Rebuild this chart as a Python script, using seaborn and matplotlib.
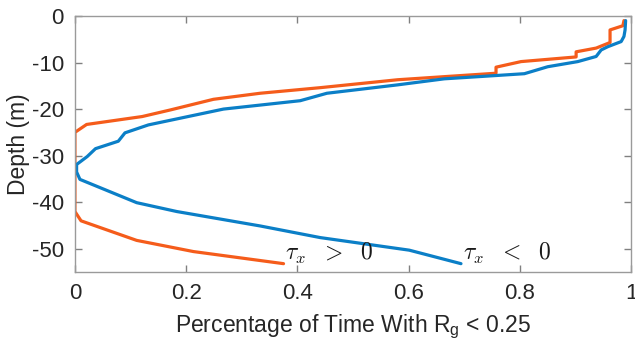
import matplotlib
matplotlib.use("Agg")
import matplotlib.pyplot as plt
import numpy as np
import pandas as pd
import seaborn as sns

# Fraction of time with gradient Richardson number below 0.25, by depth
pos_frac = [0.987, 0.985, 0.962, 0.962, 0.937, 0.901, 0.901, 0.802, 0.757, 0.757,
            0.580, 0.441, 0.333, 0.249, 0.171, 0.121, 0.021, 0.0, 0.0, 0.011,
            0.111, 0.213, 0.375]
pos_depth = [-1.0, -2.1, -3.0, -5.7, -6.9, -7.7, -8.8, -9.8, -11.0, -12.3,
             -13.7, -15.4, -16.6, -17.9, -20.2, -21.6, -23.3, -25.0, -42.0, -44.0,
             -48.2, -50.6, -53.2]

neg_frac = [0.990, 0.989, 0.987, 0.982, 0.958, 0.946, 0.937, 0.904, 0.850, 0.808,
            0.730, 0.664, 0.580, 0.453, 0.405, 0.267, 0.132, 0.090, 0.078, 0.037,
            0.022, 0.003, 0.003, 0.009, 0.111, 0.183, 0.333, 0.441, 0.601, 0.694]
neg_depth = [-1.0, -3.0, -4.4, -5.5, -6.6, -7.3, -8.7, -9.8, -10.9, -12.4,
             -13.0, -13.5, -14.8, -16.6, -18.2, -20.0, -23.4, -25.1, -26.9, -28.5,
             -30.2, -31.9, -33.5, -35.1, -40.1, -42.0, -45.1, -47.6, -50.3, -53.2]

x_ticks = [0, 0.2, 0.4, 0.6, 0.8, 1]
x_ticklabels = ["0", "0.2", "0.4", "0.6", "0.8", "1"]
y_ticks = [0, -10, -20, -30, -40, -50]

series_colors = {"pos": "#F55C1B", "neg": "#0B7FC7"}

profiles = {
    "pos": pd.DataFrame({"frac": pos_frac, "depth": pos_depth}),
    "neg": pd.DataFrame({"frac": neg_frac, "depth": neg_depth}),
}

sns.set_style("ticks")
plt.rcParams["font.family"] = ["Liberation Sans", "DejaVu Sans"]
plt.rcParams["axes.unicode_minus"] = False
plt.rcParams["mathtext.fontset"] = "custom"
plt.rcParams["mathtext.rm"] = "Liberation Sans"
plt.rcParams["mathtext.it"] = "Liberation Sans:italic"

fig = plt.figure(figsize=(6.35, 3.47), dpi=100)
ax = fig.add_axes([0.118, 0.216, 0.876, 0.738])

# each profile is one path drawn in depth order
for name in ["pos", "neg"]:
    sns.lineplot(data=profiles[name], x="frac", y="depth", sort=False,
                 estimator=None, color=series_colors[name], linewidth=2.3, ax=ax)

ax.set_xlim(0, 1)
ax.set_ylim(-55, 0)
ax.set_xticks(x_ticks)
ax.set_xticklabels(x_ticklabels)
ax.set_yticks(y_ticks)

axis_gray = "#9A9A9A"
for s in ax.spines.values():
    s.set_visible(True)
    s.set_color(axis_gray)
    s.set_linewidth(1.0)
ax.tick_params(direction="in", length=5, width=1.0, color="#808080",
               labelsize=16, labelcolor="#262626",
               bottom=True, left=True, top=True, right=True, pad=8)

ax.set_xlabel(r"Percentage of Time With R$_{\mathrm{g}}$ < 0.25",
              fontsize=16.5, color="#262626", labelpad=6)
ax.set_ylabel("Depth (m)", fontsize=16.5, color="#262626", labelpad=1)

ax.text(0.378, -52.4, r"$\tau_x\ \ >\ \ 0$", fontsize=17, color="#1a1a1a",
        math_fontfamily="cm", va="baseline")
ax.text(0.697, -52.4, r"$\tau_x\ \ <\ \ 0$", fontsize=17, color="#1a1a1a",
        math_fontfamily="cm", va="baseline")

fig.savefig("out.png", dpi=100)
